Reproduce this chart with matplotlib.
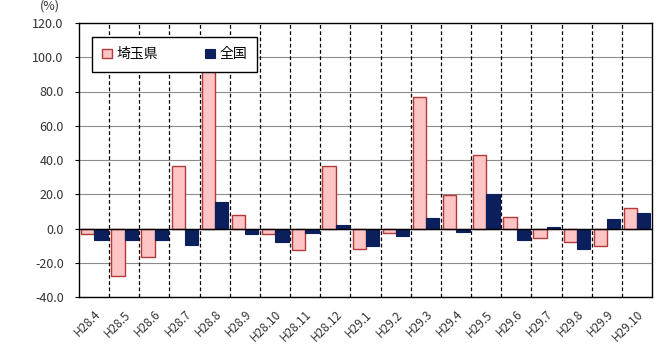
import numpy as np
import matplotlib
matplotlib.use("Agg")
import matplotlib.pyplot as plt

plt.rcParams['font.family'] = ['Noto Sans CJK JP', 'DejaVu Sans']

months = ["H28.4", "H28.5", "H28.6", "H28.7", "H28.8", "H28.9", "H28.10",
          "H28.11", "H28.12", "H29.1", "H29.2", "H29.3", "H29.4", "H29.5",
          "H29.6", "H29.7", "H29.8", "H29.9", "H29.10"]
saitama = [-3.3, -28.0, -16.4, 36.4, 100.0, 7.8, -3.3, -12.5, 36.4, -11.7,
           -2.5, 76.7, 19.5, 43.0, 6.8, -5.3, -7.6, -10.3, 11.9]
zenkoku = [-6.8, -6.8, -6.8, -9.7, 15.4, -3.5, -7.8, -2.5, 1.8, -10.1,
           -4.5, 6.0, -1.9, 20.4, -6.8, 1.0, -12.0, 5.3, 8.8]

PINK = "#FFC4C4"
PINK_EDGE = "#B23A3A"
NAVY = "#0B1F5C"

fig = plt.figure(figsize=(6.56, 3.56), dpi=100)
ax = fig.add_axes([79 / 656, 1 - 297 / 356, 573 / 656, 274 / 356])

x = np.arange(len(months))
w = 0.44
ax.bar(x - w / 2 + 0.01, saitama, w, color=PINK, edgecolor=PINK_EDGE,
       linewidth=1.0, label="埼玉県", zorder=3)
ax.bar(x + w / 2 + 0.01, zenkoku, w, color=NAVY, edgecolor=NAVY,
       linewidth=0.8, label="全国", zorder=3)

ax.set_xlim(-0.5, len(months) - 0.5)
ax.set_ylim(-40, 120)
ax.set_yticks(np.arange(-40, 121, 20))
ax.set_yticklabels([f"{v:.1f}" for v in np.arange(-40, 121, 20)])

# horizontal grid + dashed category separators
ax.grid(axis="y", color="#8c8c8c", linewidth=0.8, zorder=1)
for b in x[:-1] + 0.5:
    ax.axvline(b, color="black", linewidth=0.9, linestyle=(0, (3, 2)), zorder=2)
ax.axhline(0, color="black", linewidth=1.0, zorder=4)

ax.set_xticks(x)
ax.set_xticklabels(months, rotation=45, ha="right", rotation_mode="anchor")
ax.tick_params(axis="x", length=0, pad=8, labelsize=8.5, labelcolor="#333333")
ax.tick_params(axis="y", length=3, direction="out", labelsize=9,
               labelcolor="#333333", pad=8)
for s in ax.spines.values():
    s.set_color("black")
    s.set_linewidth(1.0)

leg = ax.legend(loc="upper left", bbox_to_anchor=(13 / 573, 1 - 14 / 274),
                ncol=2, frameon=True, fancybox=False, fontsize=10,
                handlelength=0.7, handleheight=0.7, handletextpad=0.3,
                columnspacing=3.4, borderpad=0.75, borderaxespad=0,
                framealpha=1.0)
leg.get_frame().set_edgecolor("black")
leg.get_frame().set_linewidth(1.0)
leg.set_zorder(10)

fig.text(50 / 656, 1 - 6 / 356, "(%)", ha="center", va="center",
         fontsize=9, color="#333333")

fig.savefig("out.png", dpi=100)
